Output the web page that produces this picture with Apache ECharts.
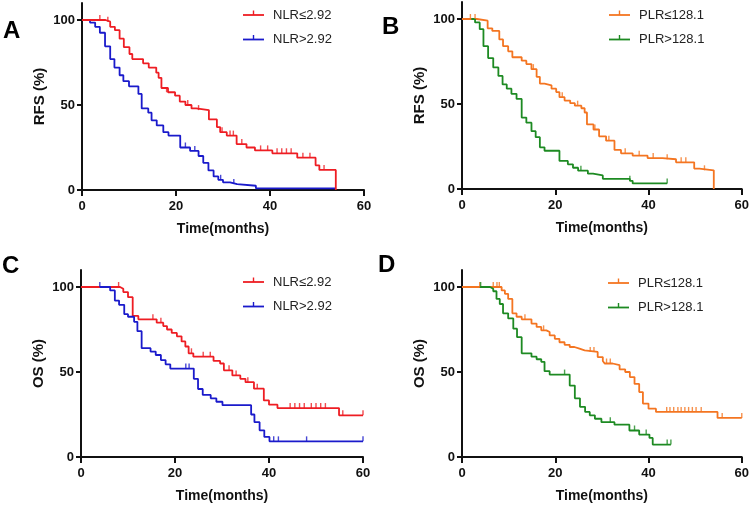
<!DOCTYPE html>
<html><head><meta charset="utf-8">
<script src="https://cdn.jsdelivr.net/npm/echarts@6/dist/echarts.min.js"></script>
<style>html,body{margin:0;padding:0;background:#fff}#c{width:752px;height:505px}</style>
</head><body><div id="c"></div>
<script>
// ---- Data (months, survival %) ----
const xTicks = [0, 20, 40, 60];
const yTicks = [0, 50, 100];
const panelLetters = ['A', 'B', 'C', 'D'];
const yNames = ['RFS (%)', 'RFS (%)', 'OS (%)', 'OS (%)'];
const xName = 'Time(months)';
const namesNLR = ['NLR≤2.92', 'NLR>2.92'];
const namesPLR = ['PLR≤128.1', 'PLR>128.1'];

const rfsNLRlow = [[0,100],[5,99],[6,96],[7,94],[8,89],[8.9,84],[10.1,80],[10.7,77],[13,74.5],[14.2,72],[15.8,69],[16.3,66],[16.9,60],[18.3,57.5],[19.8,55.5],[20.8,52],[22,50],[23.3,48],[24.3,47],[27,41.5],[28.7,37],[29.4,34],[30.8,32],[32.9,27],[35,25],[36.8,23.3],[40.5,21.6],[45.8,19],[49.7,14.5],[50.5,11.8],[54,0]];
const rfsNLRlowCens = [[3.8,100],[5.5,99],[18,57.5],[22.5,50],[24.8,47],[29.8,34],[31.5,32],[32.2,32],[34,27],[38,23.3],[39.5,23.3],[41.5,21.6],[42.5,21.6],[43.5,21.6],[44.5,21.6],[47,19],[48.5,19],[51.5,11.8]];
const rfsNLRhigh = [[0,100],[1.7,98.5],[2.8,96],[3.8,92.5],[4.9,84.5],[6,77],[6.9,72],[8,67.5],[8.8,64],[10,61],[12,56.5],[12.7,48],[14.1,45.5],[14.8,41],[15.9,38],[17.3,34],[18.4,32],[20.9,25],[23,23],[24.8,20],[25.8,16],[26.9,11.5],[28,8],[29,6],[30,4.5],[31.5,3.5],[33,2.5],[37,1],[54,1]];
const rfsNLRhighCens = [[22,25],[24,23],[29.5,6],[32.3,3.5]];

const rfsPLRlow = [[0,100],[3.2,99],[5.5,94.5],[6.5,93],[8,88],[8.8,84],[9.9,81],[10.8,77.5],[12.8,75.5],[13.8,73.5],[14.9,70.5],[16,66],[16.7,62],[17.7,61],[19.2,59],[20.2,57],[20.9,54],[22,52],[23.2,50.5],[24.2,49],[25.6,47.5],[26.3,45],[26.8,38],[28.2,35],[29.4,31],[30.9,28.4],[32.7,23],[34.1,21],[36.6,19.6],[39.8,18.2],[43,17.5],[45.9,15.7],[49.8,12],[50.9,11],[54,0]];
const rfsPLRlowCens = [[1.8,100],[2.8,100],[15.3,70.5],[21.5,54],[24.8,49],[28.5,35],[31.5,28.4],[35,21],[38,19.6],[41,18.2],[44,17.5],[47,15.7],[48,15.7],[52,11]];
const rfsPLRhigh = [[2,100],[2.8,98],[3.8,94],[4.6,84],[5.6,77],[6.7,71.5],[7.8,66.5],[8.7,61.5],[9.6,59],[10.6,56],[11.7,53],[12.8,42],[13.8,39],[14.9,34],[15.8,30.5],[16.7,24.5],[17.7,22.5],[20.9,16.5],[22.7,14.5],[23.8,12.5],[24.9,10.8],[27,9],[28.1,8],[30.2,6],[36,4.8],[36.6,3.3],[44,3.3]];
const rfsPLRhighCens = [[25.5,10.8],[36,4.8],[44,3.3]];

const osNLRlow = [[0,100],[8.3,99],[9,97],[10,94],[11,83],[12.2,81],[16.1,79],[17.5,77],[18.3,75],[19.3,73],[20.4,71],[21.4,68],[22.2,65],[22.9,61],[23.9,59],[28.2,56.5],[29.6,55],[30.4,51],[32.2,48],[33.9,46],[35,44],[36.8,40.2],[38.9,33.3],[40,30.8],[41.8,28.8],[54.9,24.5],[60,24.5]];
const osNLRlowCens = [[8,100],[15.3,81],[17,79],[23.5,61],[26,59],[27.5,59],[31.5,51],[33,48],[35.5,44],[37.5,40.2],[44.5,28.8],[45.5,28.8],[46.5,28.8],[47.5,28.8],[49,28.8],[50,28.8],[51,28.8],[52,28.8],[55.7,24.5],[60,24.5]];
const osNLRhigh = [[4,100],[6.2,98],[7.2,92],[8.1,89.5],[9.2,84],[10,82.5],[11.3,79.5],[12,74],[12.9,64],[14.8,62],[15.9,60],[17,57],[18,54.5],[19,52],[24,46],[24.9,40],[25.9,36.5],[27.6,34.5],[28.8,32.5],[30.1,30.5],[36.2,25],[36.9,20.5],[38,15.7],[39,11.8],[40.1,9.2],[60,9.2]];
const osNLRhighCens = [[4,100],[22.3,52],[23,52],[41,9.2],[42,9.2],[48,9.2],[60,9.2]];

const osPLRlow = [[0,100],[8.5,98],[9.2,96],[9.9,93],[10.8,84.5],[11.7,82.5],[12.8,81],[14.9,78.5],[16,76.5],[17,74.5],[18.1,73.5],[18.8,71.5],[19.9,69.5],[20.9,67.5],[22,66],[23.1,64.7],[24.1,63.7],[25.2,62.7],[26.3,61.8],[29.1,58.8],[30.2,56.5],[30.6,55],[32.3,54],[33.8,51.6],[35,50],[36,47],[37,43],[38,38.2],[38.8,31.4],[40,28.4],[41.6,26.5],[54.8,23],[60,23]];
const osPLRlowCens = [[3.8,100],[6.7,100],[7.5,100],[8.0,100],[13.5,81],[17.5,74.5],[27.5,61.8],[28.3,61.8],[31,55],[31.8,55],[43.9,26.5],[44.6,26.5],[45.4,26.5],[46.3,26.5],[47,26.5],[47.8,26.5],[48.6,26.5],[49.4,26.5],[50.2,26.5],[51.3,26.5],[55.8,23],[60,23]];
const osPLRhigh = [[3.8,100],[6,99],[6.7,97.5],[7.4,93],[8.1,90],[8.8,84.5],[9.9,81.5],[11,75.5],[11.8,70.5],[12.8,61],[14.9,59],[16,57.5],[17,56],[17.7,50.5],[18.8,48.5],[22.4,48.5],[23.1,42],[24.2,34.5],[25.3,29.5],[26.4,26.5],[27.4,24.5],[28.5,22.5],[29.9,20.5],[32.7,19],[35.9,15.6],[38,13.2],[40.2,11.2],[40.9,7.3],[44.8,7.3]];
const osPLRhighCens = [[4,100],[22,48.5],[31.8,20.5],[37,15.6],[39.5,13.2],[44,7.3],[44.8,7.3]];

// ---- Styling / layout ----
const FONT = 'Liberation Sans, Arial, sans-serif';
const RED = '#ee1d23', BLUE = '#1a1acb', ORANGE = '#f47521', GREEN = '#1d8a22';
const grids = [
  {left: 82, top: 3, width: 282, height: 187},
  {left: 462, top: 2, width: 281, height: 187},
  {left: 81, top: 270, width: 282, height: 187},
  {left: 462, top: 270, width: 281, height: 187}
];
const panels = [
  {curves: [[rfsNLRlow, rfsNLRlowCens, RED, namesNLR[0]], [rfsNLRhigh, rfsNLRhighCens, BLUE, namesNLR[1]]], order: [1, 0]},
  {curves: [[rfsPLRlow, rfsPLRlowCens, ORANGE, namesPLR[0]], [rfsPLRhigh, rfsPLRhighCens, GREEN, namesPLR[1]]], order: [0, 1]},
  {curves: [[osNLRlow, osNLRlowCens, RED, namesNLR[0]], [osNLRhigh, osNLRhighCens, BLUE, namesNLR[1]]], order: [0, 1]},
  {curves: [[osPLRlow, osPLRlowCens, ORANGE, namesPLR[0]], [osPLRhigh, osPLRhighCens, GREEN, namesPLR[1]]], order: [0, 1]}
];
const letterPos = [[3, 32], [382, 28], [2, 267], [378, 266]];
const legendPos = [[243, 15], [609, 15], [243, 282], [608, 283]];

const xAxes = [], yAxes = [], series = [], graphics = [];
grids.forEach((g, i) => {
  xAxes.push({
    gridIndex: i, type: 'value', min: 0, max: 60, interval: 20,
    name: xName, nameLocation: 'middle', nameGap: 32,
    nameTextStyle: {fontFamily: FONT, fontWeight: 'bold', fontSize: 14, color: '#111'},
    axisLine: {onZero: false, lineStyle: {color: '#111', width: 2}},
    axisTick: {length: 6, lineStyle: {color: '#111', width: 2}},
    axisLabel: {margin: 10, fontFamily: FONT, fontWeight: 'bold', fontSize: 13, color: '#111'},
    splitLine: {show: false}
  });
  yAxes.push({
    gridIndex: i, type: 'value', min: 0, max: 110,
    name: yNames[i], nameLocation: 'middle', nameGap: 35,
    nameTextStyle: {fontFamily: FONT, fontWeight: 'bold', fontSize: 15, color: '#111'},
    axisLine: {show: true, lineStyle: {color: '#111', width: 2}},
    axisTick: {show: true, length: 5, customValues: yTicks, lineStyle: {color: '#111', width: 2}},
    axisLabel: {margin: 7, customValues: yTicks, fontFamily: FONT, fontWeight: 'bold', fontSize: 13, color: '#111'},
    splitLine: {show: false}
  });
  const p = panels[i];
  p.order.forEach(k => {
    const [d, cens, col] = p.curves[k];
    series.push({
      type: 'line', xAxisIndex: i, yAxisIndex: i, data: d, step: 'end',
      showSymbol: false, symbol: 'none', silent: true, animation: false,
      lineStyle: {color: col, width: 1.8}, z: 3
    });
    series.push({
      type: 'scatter', xAxisIndex: i, yAxisIndex: i, data: cens,
      symbol: 'rect', symbolSize: [1.4, 5], symbolOffset: [0, -2.5],
      itemStyle: {color: col}, silent: true, animation: false, z: 4
    });
  });
  // panel letter
  graphics.push({type: 'text', left: letterPos[i][0], top: letterPos[i][1] - 13,
    style: {text: panelLetters[i], fontFamily: FONT, fontWeight: 'bold', fontSize: 24, fill: '#000'}});
  // legend
  const [lx, ly] = legendPos[i];
  p.curves.forEach((c, r) => {
    const y = ly + r * 24.5;
    graphics.push({type: 'line', shape: {x1: lx, y1: y, x2: lx + 21, y2: y}, style: {stroke: c[2], lineWidth: 1.8}});
    graphics.push({type: 'line', shape: {x1: lx + 10.5, y1: y, x2: lx + 10.5, y2: y - 4.5}, style: {stroke: c[2], lineWidth: 1.4}});
    graphics.push({type: 'text', x: lx + 30, y: y, style: {text: c[3], fontFamily: FONT, fontSize: 13, fill: '#222', verticalAlign: 'middle'}});
  });
});

const chart = echarts.init(document.getElementById('c'), null, {renderer: 'canvas'});
chart.setOption({
  animation: false,
  backgroundColor: '#fff',
  grid: grids,
  xAxis: xAxes,
  yAxis: yAxes,
  series: series,
  graphic: graphics
});
</script>
</body></html>
